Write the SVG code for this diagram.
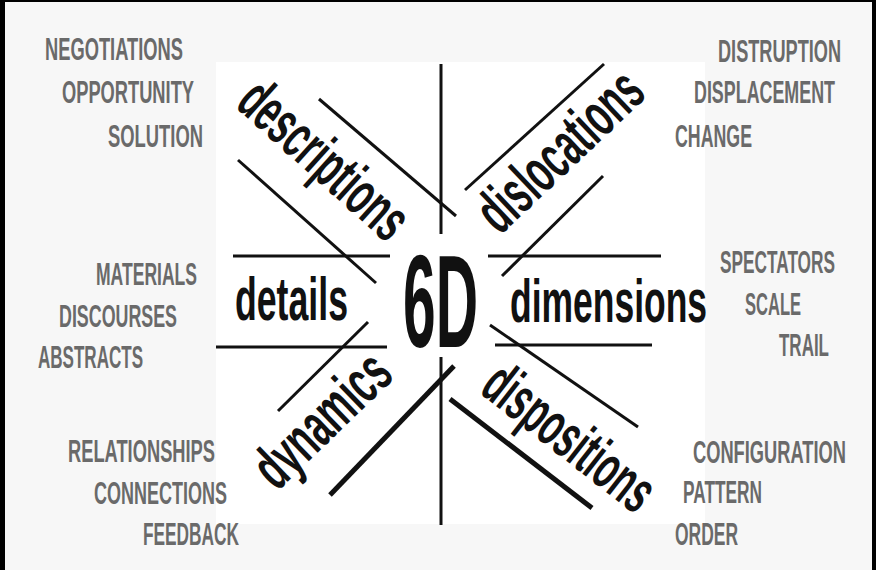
<svg xmlns="http://www.w3.org/2000/svg" width="876" height="570" viewBox="0 0 876 570">
<style>
.lbl{font-family:"Liberation Sans",Arial,sans-serif;font-weight:bold;font-size:31px;fill:#6a6a6a}
.word{font-family:"Liberation Sans",Arial,sans-serif;font-weight:bold;font-size:62px;fill:#111}
.ln{stroke:#111;stroke-width:3;stroke-linecap:butt;fill:none}
.thick{stroke-width:5}
</style>
<rect x="0" y="0" width="876" height="570" fill="#000"/>
<rect x="5" y="2" width="867" height="568" fill="#f7f7f7"/>
<rect x="216" y="62" width="489" height="462" fill="#ffffff"/>
<g id="connectors">
<line class="ln" x1="319" y1="99" x2="456" y2="216"/>
<line class="ln" x1="238" y1="160" x2="376" y2="283"/>
<line class="ln" x1="233" y1="256" x2="390" y2="256" stroke-width="3.5"/>
<line class="ln" x1="216" y1="347" x2="387" y2="347" stroke-width="3.5"/>
<line class="ln" x1="441" y1="64" x2="441" y2="234"/>
<line class="ln" x1="604" y1="64" x2="465" y2="190" stroke-width="3.5"/>
<line class="ln" x1="603" y1="176" x2="502" y2="276" stroke-width="3.5"/>
<line class="ln" x1="488" y1="256" x2="661" y2="256" stroke-width="3.5"/>
<line class="ln" x1="495" y1="345" x2="652" y2="345" stroke-width="3.5"/>
<line class="ln" x1="490" y1="325" x2="638" y2="427" stroke-width="2.5"/>
<line class="ln thick" x1="450" y1="399" x2="592" y2="508"/>
<line class="ln" x1="441" y1="357" x2="441" y2="525"/>
<line class="ln thick" x1="454" y1="366" x2="330" y2="495" stroke-width="4.5"/>
<line class="ln" x1="368" y1="322" x2="278" y2="411"/>
</g>
<g id="node-6d"><text class="word" transform="translate(403,347) scale(0.45,1)" style="font-size:132px" textLength="166.7" lengthAdjust="spacingAndGlyphs">6D</text></g>
<g id="node-details"><text class="word" transform="translate(235,320) scale(0.58,1)" textLength="194.8" lengthAdjust="spacingAndGlyphs">details</text></g>
<g id="node-dimensions"><text class="word" transform="translate(510,322) scale(0.58,1)" textLength="339.7" lengthAdjust="spacingAndGlyphs">dimensions</text></g>
<g id="node-descriptions"><text class="word" transform="translate(234,106) rotate(42) scale(0.58,1)" textLength="355.2" lengthAdjust="spacingAndGlyphs">descriptions</text></g>
<g id="node-dislocations"><text class="word" transform="translate(500,236) rotate(-43.4) scale(0.58,1)" textLength="351.7" lengthAdjust="spacingAndGlyphs">dislocations</text></g>
<g id="node-dynamics"><text class="word" transform="translate(277,492) rotate(-44) scale(0.58,1)" textLength="284.5" lengthAdjust="spacingAndGlyphs">dynamics</text></g>
<g id="node-dispositions"><text class="word" transform="translate(478,392) rotate(38) scale(0.58,1)" textLength="344.8" lengthAdjust="spacingAndGlyphs">dispositions</text></g>
<g id="labels-descriptions">
<text class="lbl" transform="translate(45,60) scale(0.59,1)" textLength="233.9" lengthAdjust="spacingAndGlyphs">NEGOTIATIONS</text>
<text class="lbl" transform="translate(62,103) scale(0.59,1)" textLength="223.7" lengthAdjust="spacingAndGlyphs">OPPORTUNITY</text>
<text class="lbl" transform="translate(108,147) scale(0.59,1)" textLength="161" lengthAdjust="spacingAndGlyphs">SOLUTION</text>
</g>
<g id="labels-dislocations">
<text class="lbl" transform="translate(718,62) scale(0.59,1)" textLength="208.5" lengthAdjust="spacingAndGlyphs">DISTRUPTION</text>
<text class="lbl" transform="translate(694,103) scale(0.59,1)" textLength="239" lengthAdjust="spacingAndGlyphs">DISPLACEMENT</text>
<text class="lbl" transform="translate(675,147) scale(0.59,1)" textLength="130.5" lengthAdjust="spacingAndGlyphs">CHANGE</text>
</g>
<g id="labels-details">
<text class="lbl" transform="translate(96,285) scale(0.59,1)" textLength="171.2" lengthAdjust="spacingAndGlyphs">MATERIALS</text>
<text class="lbl" transform="translate(59,327) scale(0.59,1)" textLength="200" lengthAdjust="spacingAndGlyphs">DISCOURSES</text>
<text class="lbl" transform="translate(38,368) scale(0.59,1)" textLength="178" lengthAdjust="spacingAndGlyphs">ABSTRACTS</text>
</g>
<g id="labels-dimensions">
<text class="lbl" transform="translate(720,273) scale(0.59,1)" textLength="194.9" lengthAdjust="spacingAndGlyphs">SPECTATORS</text>
<text class="lbl" transform="translate(745,315) scale(0.59,1)" textLength="94.9" lengthAdjust="spacingAndGlyphs">SCALE</text>
<text class="lbl" transform="translate(779,356) scale(0.59,1)" textLength="84.7" lengthAdjust="spacingAndGlyphs">TRAIL</text>
</g>
<g id="labels-dynamics">
<text class="lbl" transform="translate(68,462) scale(0.59,1)" textLength="249.2" lengthAdjust="spacingAndGlyphs">RELATIONSHIPS</text>
<text class="lbl" transform="translate(94,504) scale(0.59,1)" textLength="225.4" lengthAdjust="spacingAndGlyphs">CONNECTIONS</text>
<text class="lbl" transform="translate(143,545) scale(0.59,1)" textLength="162.7" lengthAdjust="spacingAndGlyphs">FEEDBACK</text>
</g>
<g id="labels-dispositions">
<text class="lbl" transform="translate(693,463) scale(0.59,1)" textLength="259.3" lengthAdjust="spacingAndGlyphs">CONFIGURATION</text>
<text class="lbl" transform="translate(683,503) scale(0.59,1)" textLength="133.9" lengthAdjust="spacingAndGlyphs">PATTERN</text>
<text class="lbl" transform="translate(675,545) scale(0.59,1)" textLength="106.8" lengthAdjust="spacingAndGlyphs">ORDER</text>
</g>
</svg>
